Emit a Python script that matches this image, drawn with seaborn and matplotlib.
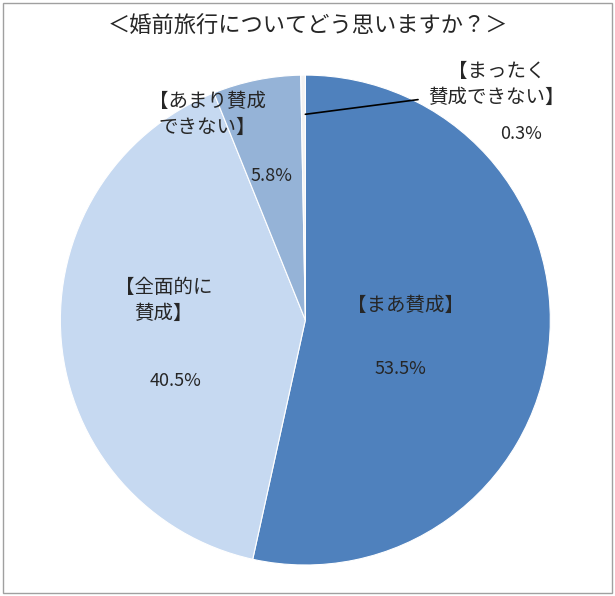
import matplotlib
matplotlib.use('Agg')
import seaborn as sns
from matplotlib import pyplot as plt
from matplotlib.patches import Rectangle

sns.set_style('white')
# set_style の後でフォントを指定（上書きされるため）
plt.rcParams['font.family'] = ['Noto Sans CJK JP', 'Noto Sans CJK SC', 'DejaVu Sans']

# データ（時計回り、上から）
labels = ['【まあ賛成】', '【全面的に\n賛成】', '【あまり賛成\nできない】', '【まったく\n賛成できない】']
values = [53.5, 40.5, 5.8, 0.3]
colors = ['#4F81BD', '#C6D9F1', '#95B3D7', '#F2F2F2']

fig = plt.figure(figsize=(6.15, 5.96), dpi=100)
fig.patches.append(Rectangle((0.005, 0.005), 0.99, 0.99, transform=fig.transFigure,
                             fill=False, edgecolor='#A0A0A0', linewidth=1))
fig.text(0.5, 0.955, '＜婚前旅行についてどう思いますか？＞', ha='center', va='center', fontsize=16)

ax = fig.add_axes([0.098, 0.052, 0.797, 0.822])
ax.pie(values, colors=colors, startangle=90, counterclock=False,
       wedgeprops=dict(edgecolor='white', linewidth=0.8))
ax.set_xlim(-1, 1)
ax.set_ylim(-1, 1)

# ラベル
ax.text(0.41, 0.06, labels[0], ha='center', va='center', fontsize=14)
ax.text(0.39, -0.2, f'{values[0]}%', ha='center', va='center', fontsize=13)
ax.text(-0.58, 0.08, labels[1], ha='center', va='center', fontsize=14, linespacing=1.3)
ax.text(-0.53, -0.25, f'{values[1]}%', ha='center', va='center', fontsize=13)
ax.text(-0.4, 0.84, labels[2], ha='center', va='center', fontsize=14, linespacing=1.3)
ax.text(-0.14, 0.59, f'{values[2]}%', ha='center', va='center', fontsize=13)
ax.text(0.78, 0.96, labels[3], ha='center', va='center', fontsize=14, linespacing=1.3)
ax.text(0.88, 0.76, f'{values[3]}%', ha='center', va='center', fontsize=13)
ax.plot([0.46, 0.0], [0.9, 0.84], color='black', linewidth=1.2)

fig.savefig('out.png', dpi=100)
